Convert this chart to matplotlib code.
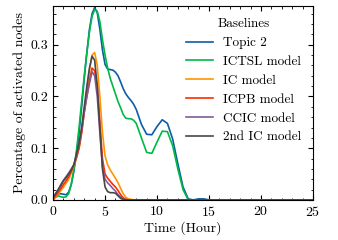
import matplotlib
matplotlib.use('Agg')
import matplotlib.pyplot as plt
from matplotlib.ticker import MultipleLocator, FormatStrFormatter

# time axis (hours): fine steps during the burst, coarser afterwards
t_fine = [0, 0.25, 0.5, 0.75, 1, 1.25, 1.5, 1.75, 2, 2.25, 2.5, 2.75, 3, 3.25, 3.5, 3.75,
          4, 4.25, 4.5, 4.75, 5, 5.25, 5.5, 5.75, 6, 6.25, 6.5, 6.75, 7, 7.25, 7.5, 7.75, 8]
t_late = [8.5, 9, 9.5, 10, 10.5, 11, 11.5, 12, 12.5, 13, 13.5, 14, 14.5, 15, 25]

topic2 = [0.005, 0.008, 0.012, 0.012, 0.011, 0.01, 0.015, 0.03, 0.055, 0.09, 0.13, 0.18,
          0.235, 0.285, 0.33, 0.36, 0.372, 0.362, 0.33, 0.29, 0.262, 0.253, 0.252, 0.251,
          0.247, 0.24, 0.228, 0.215, 0.205, 0.198, 0.192, 0.185, 0.175,
          0.146, 0.127, 0.126, 0.142, 0.155, 0.148, 0.118, 0.07, 0.025, 0.002, 0.0, 0.002,
          0.002, 0.0, 0.0]
ictsl = [0.002, 0.005, 0.008, 0.006, 0.005, 0.006, 0.012, 0.03, 0.06, 0.095, 0.14, 0.19,
         0.24, 0.285, 0.325, 0.355, 0.368, 0.365, 0.345, 0.31, 0.28, 0.255, 0.235, 0.22,
         0.205, 0.19, 0.178, 0.165, 0.158, 0.157, 0.157, 0.154, 0.148,
         0.12, 0.092, 0.09, 0.112, 0.133, 0.132, 0.105, 0.06, 0.02, 0.0, 0.0, 0.0,
         0.0, 0.0, 0.0]
ic = [0.0, 0.006, 0.012, 0.018, 0.025, 0.032, 0.04, 0.052, 0.066, 0.08, 0.1, 0.13,
      0.17, 0.21, 0.25, 0.28, 0.285, 0.26, 0.2, 0.13, 0.085, 0.068, 0.058, 0.05,
      0.042, 0.033, 0.022, 0.012, 0.005, 0.002, 0.001, 0.0, 0.0, 0.0]
icpb = [0.0, 0.008, 0.015, 0.022, 0.03, 0.037, 0.045, 0.055, 0.068, 0.082, 0.1, 0.13,
        0.17, 0.2, 0.23, 0.255, 0.25, 0.22, 0.15, 0.08, 0.05, 0.042, 0.036, 0.03,
        0.025, 0.018, 0.01, 0.004, 0.001, 0.0, 0.0, 0.0, 0.0, 0.0]
ccic = [0.005, 0.012, 0.02, 0.03, 0.038, 0.045, 0.052, 0.06, 0.068, 0.085, 0.105, 0.135,
        0.17, 0.2, 0.225, 0.248, 0.24, 0.2, 0.13, 0.065, 0.04, 0.033, 0.028, 0.022,
        0.017, 0.01, 0.005, 0.002, 0.0, 0.0, 0.0, 0.0, 0.0, 0.0]
ic2 = [0.005, 0.012, 0.02, 0.028, 0.037, 0.043, 0.05, 0.058, 0.068, 0.088, 0.11, 0.14,
       0.18, 0.22, 0.255, 0.278, 0.27, 0.22, 0.14, 0.06, 0.025, 0.016, 0.014, 0.014,
       0.013, 0.008, 0.003, 0.001, 0.0, 0.0, 0.0, 0.0, 0.0, 0.0]

labels = ['Topic 2', 'ICTSL model', 'IC model', 'ICPB model', 'CCIC model', '2nd IC model']
colors = ['#0C5DA5', '#00B945', '#FF9500', '#FF2C00', '#845B97', '#474747']

plt.rcParams['font.family'] = 'serif'
plt.rcParams['font.serif'] = ['cmr10', 'DejaVu Serif']
plt.rcParams['axes.formatter.use_mathtext'] = True
plt.rcParams['mathtext.fontset'] = 'cm'
plt.rcParams['font.size'] = 10

fig = plt.figure(figsize=(3.38, 2.4), dpi=100)
ax = fig.add_axes([0.157, 0.167, 0.769, 0.808])

t_full = t_fine + t_late
t_short = t_fine + [25]
series = [topic2, ictsl, ic, icpb, ccic, ic2]
for y, lab, c in zip(series, labels, colors):
    tt = t_full if len(y) == len(t_full) else t_short
    ax.plot(tt, y, color=c, lw=1.2, label=lab)

ax.set_xlim(0, 25)
ax.set_ylim(0, 0.375)
ax.xaxis.set_major_locator(MultipleLocator(5))
ax.xaxis.set_minor_locator(MultipleLocator(1))
ax.yaxis.set_major_locator(MultipleLocator(0.1))
ax.yaxis.set_minor_locator(MultipleLocator(0.02))
ax.yaxis.set_major_formatter(FormatStrFormatter('%.1f'))
ax.tick_params(which='both', direction='in', top=True, right=True)
ax.tick_params(which='major', length=3.5)
ax.tick_params(which='minor', length=1.8)
ax.set_xlabel('Time (Hour)', labelpad=2)
ax.set_ylabel('Percentage of activated nodes', labelpad=3)

ax.legend(title='Baselines', frameon=False, loc='upper right',
          bbox_to_anchor=(0.975, 0.964), borderaxespad=0, handlelength=2.0,
          labelspacing=0.5, fontsize=9.5, title_fontsize=9.5)

fig.savefig('out.png', dpi=100)
